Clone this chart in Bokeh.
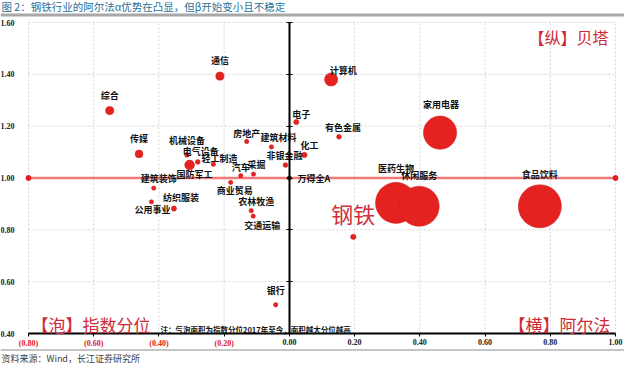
from bokeh.plotting import figure
from bokeh.models import (Range1d, FixedTicker, CustomJSTickFormatter, Label, Span,
                          ColumnDataSource, LinearAxis)
from bokeh.core.properties import value
from bokeh.embed import file_html
from bokeh.resources import INLINE
import numpy as np

# ---------------- data ----------------
industries = ["综合", "通信", "传媒", "机械设备", "电气设备", "国防军工", "轻工制造",
              "房地产", "建筑材料", "非银金融", "汽车", "采掘", "化工", "电子",
              "有色金属", "计算机", "家用电器", "医药生物", "休闲服务", "食品饮料",
              "建筑装饰", "纺织服装", "公用事业", "商业贸易", "农林牧渔", "交通运输",
              "银行", "钢铁"]
alpha = [-0.551, -0.213, -0.461, -0.314, -0.281, -0.306, -0.233,
         -0.131, -0.055, -0.012, -0.149, -0.110, 0.046, 0.021,
         0.152, 0.128, 0.462, 0.327, 0.398, 0.768,
         -0.416, -0.354, -0.423, -0.180, -0.117, -0.111,
         -0.042, 0.196]
beta = [1.260, 1.393, 1.093, 1.089, 1.062, 1.050, 1.053,
        1.141, 1.120, 1.050, 1.009, 1.015, 1.089, 1.216,
        1.159, 1.380, 1.175, 0.904, 0.891, 0.891,
        0.961, 0.882, 0.908, 0.983, 0.874, 0.853,
        0.511, 0.773]
# index percentile since 2017 (bubble area)
pct = [0.035, 0.035, 0.032, 0.012, 0.012, 0.050, 0.010,
       0.010, 0.010, 0.012, 0.010, 0.010, 0.015, 0.014,
       0.012, 0.090, 0.570, 0.870, 0.830, 0.960,
       0.010, 0.014, 0.010, 0.010, 0.010, 0.010,
       0.010, 0.015]

benchmark_name = "万得全A"
benchmark_alpha = 0.0
benchmark_beta = 1.0
highlight = "钢铁"

x_ticks = [-0.8, -0.6, -0.4, -0.2, 0.0, 0.2, 0.4, 0.6, 0.8, 1.0]
y_ticks = [0.4, 0.6, 0.8, 1.0, 1.2, 1.4, 1.6]

title_text = "图 2：钢铁行业的阿尔法α优势在凸显，但β开始变小且不稳定"
source_text = "资料来源：Wind，长江证券研究所"
note_text = "注：气泡面积为指数分位2017年至今，面积越大分位越高"
corner_beta = "【纵】贝塔"
corner_pct = "【泡】指数分位"
corner_alpha = "【横】阿尔法"

# ---------------- label placement (screen px, y down) ----------------
label_offsets = {
    "综合": (0, -15), "通信": (0, -16), "传媒": (0, -15), "机械设备": (0, -14),
    "电气设备": (3, -10), "国防军工": (5, 9), "轻工制造": (6, -6),
    "房地产": (0, -8), "建筑材料": (7, -9), "非银金融": (-1, -10), "汽车": (0, -8),
    "采掘": (3, -10), "化工": (5, -9), "电子": (5, -8), "有色金属": (4, -9),
    "计算机": (12, -9), "家用电器": (1, -28), "医药生物": (0, -34),
    "休闲服务": (0, -31), "食品饮料": (0, -32), "建筑装饰": (5, -10),
    "纺织服装": (7, -11), "公用事业": (1, 8), "商业贸易": (4, 8),
    "农林牧渔": (5, -9), "交通运输": (9, 9), "银行": (0, -14),
}

CJK = "Noto Sans CJK SC"
SERIF = "Liberation Serif"
RED = "#e42320"
DARK_RED = "#cc2a36"

# ---------------- layout: the frame covers the whole canvas ----------------
FIG_W, FIG_H = 624, 363
X0_PX, X1_PX = 28, 615      # pixel columns of first / last x tick
Y0_PX, Y1_PX = 333, 22      # pixel rows of first / last y tick
xs = (X1_PX - X0_PX) / (x_ticks[-1] - x_ticks[0])
ys = (Y0_PX - Y1_PX) / (y_ticks[-1] - y_ticks[0])
x_start = x_ticks[0] - X0_PX / xs
x_end = x_ticks[-1] + (FIG_W - X1_PX) / xs
y_end = y_ticks[-1] + Y1_PX / ys
y_start = y_ticks[0] - (FIG_H - Y0_PX) / ys


def px2x(px):
    return x_start + px / xs


def px2y(py):
    return y_end - py / ys


p = figure(width=FIG_W, height=FIG_H, output_backend="svg", toolbar_location=None,
           x_range=Range1d(x_start, x_end), y_range=Range1d(y_start, y_end),
           x_axis_location=None, y_axis_location=None,
           min_border=0, min_border_left=0, min_border_right=0,
           min_border_top=0, min_border_bottom=0)
p.outline_line_color = None
p.grid.visible = False

# dashed grid, limited to the plot area
grid_kw = dict(line_color="#d4d4d4", line_dash="2 2", line_width=1)
p.segment(x0=x_ticks, y0=[y_ticks[0]] * len(x_ticks),
          x1=x_ticks, y1=[y_ticks[-1]] * len(x_ticks), **grid_kw)
p.segment(x0=[x_ticks[0]] * len(y_ticks), y0=y_ticks,
          x1=[x_ticks[-1]] * len(y_ticks), y1=y_ticks, **grid_kw)

# y tick labels (left of the plot area)
yax = LinearAxis(fixed_location=x_ticks[0], ticker=FixedTicker(ticks=y_ticks),
                 formatter=CustomJSTickFormatter(code="return tick.toFixed(2);"),
                 axis_line_color=None, major_tick_line_color=None,
                 minor_tick_line_color=None, major_label_standoff=8,
                 major_label_text_font=SERIF, major_label_text_font_style="bold",
                 major_label_text_font_size="8px", major_label_text_color="#222222")
p.add_layout(yax, "left")

# bottom axis: black labels for >= 0
xax = LinearAxis(fixed_location=y_ticks[0], ticker=FixedTicker(ticks=x_ticks),
                 formatter=CustomJSTickFormatter(code="return tick < 0 ? '' : tick.toFixed(2);"),
                 bounds=(x_ticks[0], x_ticks[-1]),
                 axis_line_color="black", axis_line_width=2,
                 major_tick_line_color="black", major_tick_out=3, major_tick_in=0,
                 minor_tick_line_color=None, major_label_standoff=2,
                 major_label_text_font=SERIF, major_label_text_font_style="bold",
                 major_label_text_font_size="8px", major_label_text_color="#222222")
p.add_layout(xax, "below")
# bottom axis: red bracketed labels for < 0
xax_neg = LinearAxis(fixed_location=y_ticks[0], ticker=FixedTicker(ticks=x_ticks),
                     formatter=CustomJSTickFormatter(
                         code="return tick < 0 ? '(' + Math.abs(tick).toFixed(2) + ')' : '';"),
                     axis_line_color=None, major_tick_line_color=None,
                     minor_tick_line_color=None, major_tick_out=3, major_tick_in=0,
                     major_label_standoff=2,
                     major_label_text_font=SERIF, major_label_text_font_style="bold",
                     major_label_text_font_size="8px", major_label_text_color="#e02020")
p.add_layout(xax_neg, "below")

# benchmark line beta = 1
p.line(x=[x_ticks[0], x_ticks[-1]], y=[benchmark_beta, benchmark_beta],
       line_color="#f07a7a", line_width=2.5)
p.scatter(x=[x_ticks[0], x_ticks[-1]], y=[benchmark_beta, benchmark_beta],
          size=5, color="#e02020")

# vertical axis through alpha = 0
vax = LinearAxis(fixed_location=benchmark_alpha, ticker=FixedTicker(ticks=y_ticks),
                 formatter=CustomJSTickFormatter(code="return '';"),
                 bounds=(y_ticks[0], y_ticks[-1]),
                 axis_line_color="black", axis_line_width=2,
                 major_tick_line_color="black", major_tick_in=3, major_tick_out=3,
                 minor_tick_line_color=None)
p.add_layout(vax, "left")

# big highlight label (behind bubbles)
hi = industries.index(highlight)
p.text(x=[alpha[hi]], y=[beta[hi]], text=[highlight], y_offset=-24,
       text_align="center", text_baseline="middle",
       text_font=value(CJK), text_font_size="22px", text_color="#d0303a")

# bubbles
diam = 44 * np.sqrt(np.array(pct))
src = ColumnDataSource(dict(x=alpha, y=beta, name=industries, size=diam))
p.scatter(x="x", y="y", size="size", source=src, fill_color=RED,
          line_color="#d01818", line_width=0.5)

# benchmark point
p.scatter(x=[benchmark_alpha], y=[benchmark_beta], size=4, color="#222222")

# labels
lab_names = [n for n in industries if n in label_offsets]
lab_src = ColumnDataSource(dict(
    x=[alpha[industries.index(n)] for n in lab_names],
    y=[beta[industries.index(n)] for n in lab_names],
    text=lab_names,
    dx=[label_offsets[n][0] for n in lab_names],
    dy=[label_offsets[n][1] for n in lab_names],
))
p.text(x="x", y="y", text="text", x_offset="dx", y_offset="dy", source=lab_src,
       text_align="center", text_baseline="middle",
       text_font=value(CJK), text_font_style="bold", text_font_size="9px",
       text_color="#111111")
p.text(x=[benchmark_alpha], y=[benchmark_beta], text=[benchmark_name], x_offset=8,
       text_align="left", text_baseline="middle",
       text_font=value(CJK), text_font_style="bold", text_font_size="9px",
       text_color="#111111")

# corner annotations
def add_label(px, py, text, align, size, color, style="normal"):
    p.add_layout(Label(x=px2x(px), y=px2y(py), text=text, text_align=align,
                       text_baseline="middle", text_font=CJK, text_font_size=size,
                       text_font_style=style, text_color=color))


add_label(608, 36, corner_beta, "right", "16px", DARK_RED)
add_label(31, 323.5, corner_pct, "left", "17px", DARK_RED)
add_label(610, 323.5, corner_alpha, "right", "17px", DARK_RED)
add_label(160, 329, note_text, "left", "7.5px", "#111111", "bold")

# title, rules and source
add_label(1, 6, title_text, "left", "10.5px", "#2a6f96")
p.add_layout(Span(location=px2y(14.5), dimension="width",
                  line_color="#a8a8a8", line_width=3))
p.add_layout(Span(location=px2y(349.5), dimension="width",
                  line_color="#8c8c8c", line_width=1.2))
add_label(1, 357.5, source_text, "left", "9px", "#404040")

open("out.html", "w").write(file_html(p, INLINE))
